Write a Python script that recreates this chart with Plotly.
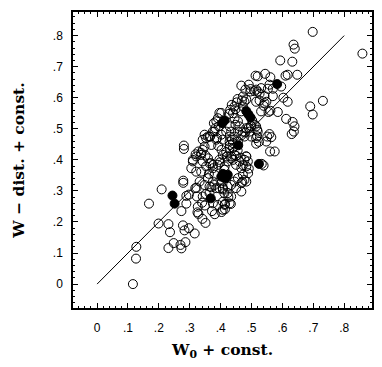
import plotly.graph_objects as go

# open-circle points (W0 + const., W - dist. + const.)
open_x = [
    0.116, 0.127, 0.126, 0.168, 0.199, 0.209, 0.231, 0.236, 0.231, 0.248, 0.270, 0.273, 0.286,
    0.279, 0.279, 0.273, 0.278, 0.283, 0.297, 0.316, 0.289, 0.289, 0.297, 0.322, 0.310, 0.325,
    0.328, 0.341, 0.351, 0.340, 0.349, 0.352, 0.372, 0.381, 0.403, 0.407, 0.414, 0.414, 0.433,
    0.425, 0.412, 0.407, 0.396, 0.380, 0.370, 0.470, 0.489, 0.491, 0.472, 0.539,
    0.318, 0.323, 0.326, 0.342, 0.375, 0.364, 0.391, 0.407, 0.413, 0.429, 0.434, 0.423,
    0.310, 0.321, 0.337, 0.342, 0.353, 0.359, 0.369, 0.375, 0.391, 0.396, 0.407, 0.413, 0.423,
    0.434, 0.445, 0.450, 0.461, 0.467, 0.477, 0.483, 0.472, 0.456, 0.445, 0.434, 0.467, 0.483,
    0.375, 0.359, 0.364, 0.348, 0.332, 0.337, 0.321, 0.305, 0.386, 0.407, 0.423, 0.450, 0.467,
    0.281, 0.281, 0.319, 0.328, 0.337, 0.342, 0.348, 0.359, 0.366, 0.380, 0.396, 0.351, 0.364, 0.375,
    0.402, 0.391, 0.386, 0.378, 0.383, 0.394,
    0.445, 0.456, 0.448, 0.461, 0.429, 0.434, 0.456, 0.472, 0.483, 0.499, 0.515, 0.494, 0.520,
    0.477, 0.499, 0.515, 0.445, 0.429, 0.402, 0.418, 0.407, 0.386, 0.364, 0.353, 0.342, 0.348,
    0.375, 0.429, 0.456, 0.440,
    0.436, 0.445, 0.431, 0.448, 0.427, 0.440, 0.467, 0.472, 0.455, 0.469, 0.483, 0.452, 0.472, 0.477,
    0.467, 0.491, 0.496, 0.515, 0.480, 0.497, 0.510, 0.513, 0.520, 0.544, 0.561,
    0.593, 0.632, 0.636, 0.640, 0.698, 0.859, 0.610, 0.617, 0.648,
    0.596, 0.558, 0.553, 0.531, 0.520, 0.526, 0.569, 0.569, 0.542, 0.548, 0.542, 0.603, 0.617,
    0.515, 0.526, 0.539, 0.690, 0.731, 0.698, 0.531, 0.555, 0.561, 0.585,
    0.612, 0.633, 0.639, 0.637, 0.630, 0.518, 0.510, 0.558, 0.551, 0.564,
    0.560, 0.575, 0.518, 0.515, 0.524, 0.548, 0.483, 0.488, 0.477, 0.533,
    0.498, 0.491, 0.502, 0.467, 0.480, 0.437, 0.429, 0.440, 0.450, 0.434, 0.420, 0.465, 0.483,
    0.403, 0.392, 0.418, 0.430, 0.398, 0.412, 0.380, 0.362, 0.402, 0.455, 0.440, 0.388, 0.370,
]
open_y = [
    0.000, 0.120, 0.082, 0.259, 0.195, 0.305, 0.193, 0.167, 0.116, 0.132, 0.126, 0.115, 0.135,
    0.333, 0.326, 0.235, 0.189, 0.173, 0.180, 0.163, 0.259, 0.284, 0.288, 0.310, 0.395, 0.231,
    0.226, 0.210, 0.197, 0.262, 0.253, 0.290, 0.235, 0.225, 0.232, 0.239, 0.258, 0.241, 0.258,
    0.280, 0.293, 0.305, 0.308, 0.319, 0.312, 0.329, 0.357, 0.372, 0.383, 0.382,
    0.309, 0.282, 0.249, 0.282, 0.260, 0.293, 0.255, 0.265, 0.255, 0.260, 0.282, 0.293,
    0.400, 0.411, 0.416, 0.395, 0.379, 0.405, 0.389, 0.373, 0.384, 0.400, 0.416, 0.379, 0.395,
    0.405, 0.416, 0.384, 0.395, 0.373, 0.400, 0.379, 0.352, 0.341, 0.330, 0.319, 0.325, 0.330,
    0.330, 0.341, 0.314, 0.319, 0.330, 0.362, 0.362, 0.373, 0.309, 0.309, 0.314, 0.309, 0.298,
    0.446, 0.435, 0.418, 0.427, 0.422, 0.432, 0.443, 0.475, 0.475, 0.491, 0.551, 0.414, 0.389, 0.384,
    0.551, 0.534, 0.524, 0.518, 0.502, 0.508,
    0.534, 0.524, 0.513, 0.508, 0.508, 0.491, 0.491, 0.491, 0.502, 0.508, 0.508, 0.491, 0.491,
    0.475, 0.475, 0.470, 0.475, 0.475, 0.481, 0.491, 0.465, 0.465, 0.475, 0.470, 0.465, 0.481,
    0.491, 0.459, 0.459, 0.454,
    0.577, 0.572, 0.561, 0.563, 0.548, 0.550, 0.556, 0.572, 0.596, 0.591, 0.594, 0.585, 0.604, 0.588,
    0.639, 0.642, 0.620, 0.626, 0.626, 0.628, 0.621, 0.671, 0.669, 0.677, 0.666,
    0.720, 0.716, 0.771, 0.758, 0.812, 0.742, 0.671, 0.674, 0.674,
    0.636, 0.642, 0.629, 0.631, 0.620, 0.613, 0.629, 0.605, 0.605, 0.587, 0.583, 0.600, 0.587,
    0.587, 0.591, 0.574, 0.572, 0.590, 0.546, 0.556, 0.554, 0.558, 0.554,
    0.532, 0.522, 0.508, 0.491, 0.483, 0.497, 0.513, 0.483, 0.475, 0.473,
    0.427, 0.427, 0.476, 0.452, 0.458, 0.459, 0.411, 0.395, 0.335, 0.387,
    0.510, 0.503, 0.527, 0.479, 0.488, 0.465, 0.438, 0.438, 0.413, 0.411, 0.411, 0.407, 0.411,
    0.432, 0.445, 0.425, 0.448, 0.392, 0.368, 0.352, 0.355, 0.325, 0.430, 0.400, 0.470, 0.448,
]

# filled points
filled_x = [0.244, 0.251, 0.368, 0.402, 0.413, 0.423, 0.418, 0.407, 0.524, 0.457,
            0.413, 0.405, 0.483, 0.490, 0.497, 0.583]
filled_y = [0.285, 0.259, 0.276, 0.346, 0.341, 0.352, 0.344, 0.355, 0.387, 0.447,
            0.527, 0.518, 0.557, 0.546, 0.536, 0.644]

# reference line
line_x = [0.0, 0.8]
line_y = [0.0, 0.8]

tick_vals = [0, 0.1, 0.2, 0.3, 0.4, 0.5, 0.6, 0.7, 0.8]
tick_text = ["0", ".1", ".2", ".3", ".4", ".5", ".6", ".7", ".8"]

fig = go.Figure()
fig.add_trace(go.Scatter(x=line_x, y=line_y, mode="lines",
                         line=dict(color="black", width=1), hoverinfo="skip"))
fig.add_trace(go.Scatter(x=open_x, y=open_y, mode="markers",
                         marker=dict(symbol="circle-open", size=9, color="black",
                                     line=dict(width=1, color="black"))))
fig.add_trace(go.Scatter(x=filled_x, y=filled_y, mode="markers",
                         marker=dict(symbol="circle", size=9, color="black",
                                     line=dict(width=1, color="black"))))

axis_common = dict(
    showgrid=False, zeroline=False, showline=True, linecolor="black", linewidth=1.5,
    mirror="ticks", ticks="inside", ticklen=5, tickwidth=1, tickcolor="black",
    tickvals=tick_vals, ticktext=tick_text,
    minor=dict(ticks="inside", ticklen=2.5, dtick=0.02, tick0=0, tickcolor="black", tickwidth=1),
    tickfont=dict(family="Liberation Sans, Arial", size=12, color="black"),
    automargin=False,
)

title_font = dict(family="DejaVu Serif", size=15.5, color="black", weight="bold")

fig.update_layout(
    width=382, height=367,
    margin=dict(l=65, r=18, t=4, b=67),
    paper_bgcolor="white", plot_bgcolor="white",
    showlegend=False,
    xaxis=dict(range=[-0.078, 0.89], ticklabelstandoff=8, **axis_common,
               title=dict(text="W<sub>0</sub> + const.", standoff=10, font=title_font)),
    yaxis=dict(range=[-0.077, 0.876], ticklabelstandoff=6, **axis_common,
               title=dict(text="W − dist. + const.", standoff=24, font=title_font)),
)

fig.write_html("out.html")
